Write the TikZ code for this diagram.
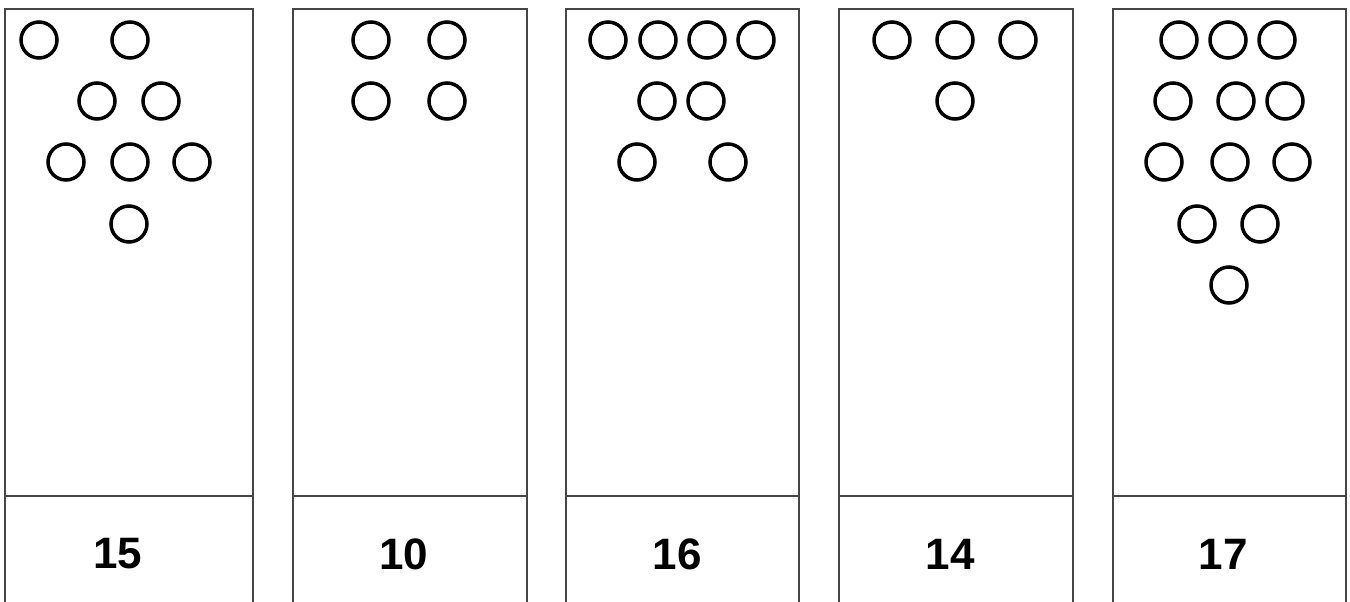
\documentclass[tikz,border=0pt]{standalone}
\usepackage{fontspec}
\setsansfont{Liberation Sans}
\usetikzlibrary{positioning}
\definecolor{frame}{RGB}{70,70,70}

\begin{document}
\begin{tikzpicture}[x=1pt, y=-1pt,
        panel/.style={draw=frame, line width=1.6pt},
        dot/.style={circle, draw=black, line width=3.5pt, minimum size=36pt, inner sep=0pt},
        count/.style={font=\sffamily\bfseries\fontsize{44}{48}\selectfont, inner sep=0pt}
      ]
      \useasboundingbox (0,0) rectangle (1350,602);
      % panels: open at the bottom, divider above the count
      \foreach \l/\r in {5/253, 293/527, 566/799, 839/1073, 1113/1346} {
        \draw[panel] (\l,602) -- (\l,9) -- (\r,9) -- (\r,602);
        \draw[panel] (\l,496) -- (\r,496);
      }
      % panel 1
      \foreach \x/\y [count=\i] in {39/40, 130/40, 97/101, 161/101, 66/162, 130/162, 192/162, 129/224}
        \node[dot] (a\i) at (\x,\y) {};
      \node[count] (na) at (118,554) {15};
      % panel 2
      \foreach \x/\y [count=\i] in {371/40, 447/40, 371/101, 447/101}
        \node[dot] (b\i) at (\x,\y) {};
      \node[count] (nb) at (404,554) {10};
      % panel 3
      \foreach \x/\y [count=\i] in {608/40, 658/40, 707/40, 756/40, 657/101, 706/101, 637/162, 728/162}
        \node[dot] (c\i) at (\x,\y) {};
      \node[count] (nc) at (677,554) {16};
      % panel 4
      \foreach \x/\y [count=\i] in {892/40, 955/40, 1018/40, 955/101}
        \node[dot] (d\i) at (\x,\y) {};
      \node[count] (nd) at (950,554) {14};
      % panel 5
      \foreach \x/\y [count=\i] in {1179/40, 1228/40, 1277/40, 1173/101, 1236/101, 1285/101,
                                    1164/162, 1230/162, 1292/162, 1197/224, 1260/224, 1229/285}
        \node[dot] (e\i) at (\x,\y) {};
      \node[count] (ne) at (1223,554) {17};
    \end{tikzpicture}
\end{document}
